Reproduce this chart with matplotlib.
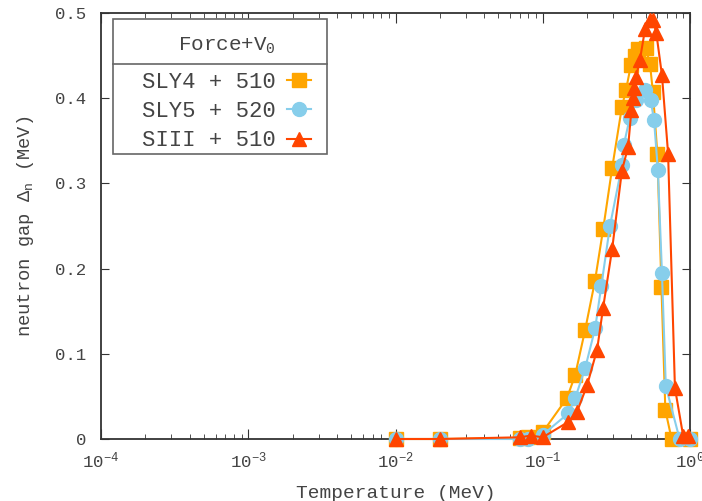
import math
import matplotlib
matplotlib.use('Agg')
import matplotlib.pyplot as plt
from matplotlib.ticker import LogLocator, FixedLocator, FuncFormatter, NullFormatter
from matplotlib.lines import Line2D
from matplotlib.patches import Rectangle

# ---------------- data ----------------
T_sly4 = [0.01, 0.02, 0.07, 0.08, 0.1, 0.146, 0.166, 0.194, 0.226, 0.257, 0.296, 0.345,
          0.368, 0.397, 0.42, 0.443, 0.5, 0.535, 0.56, 0.6, 0.64, 0.68, 0.75, 1.0]
D_sly4 = [0.0, 0.0, 0.001, 0.002, 0.008, 0.048, 0.075, 0.128, 0.185, 0.246, 0.318, 0.39,
          0.41, 0.439, 0.45, 0.458, 0.459, 0.44, 0.407, 0.335, 0.178, 0.034, 0.0, 0.0]

T_sly5 = [0.01, 0.02, 0.07, 0.08, 0.1, 0.149, 0.166, 0.194, 0.227, 0.25, 0.286, 0.346,
          0.355, 0.39, 0.43, 0.495, 0.54, 0.57, 0.605, 0.645, 0.685, 0.85, 1.0]
D_sly5 = [0.0, 0.0, 0.0, 0.0, 0.005, 0.03, 0.048, 0.083, 0.13, 0.18, 0.25, 0.322,
          0.345, 0.377, 0.398, 0.41, 0.398, 0.374, 0.316, 0.195, 0.062, 0.0, 0.0]

T_siii = [0.01, 0.02, 0.07, 0.083, 0.1, 0.149, 0.171, 0.2, 0.234, 0.257, 0.296, 0.345,
          0.38, 0.4, 0.41, 0.417, 0.43, 0.457, 0.495, 0.535, 0.56, 0.59, 0.645, 0.71,
          0.79, 0.9, 0.97]
D_siii = [0.0, 0.0, 0.002, 0.004, 0.002, 0.02, 0.032, 0.063, 0.105, 0.154, 0.223, 0.315,
          0.343, 0.386, 0.4, 0.412, 0.425, 0.445, 0.481, 0.492, 0.492, 0.477, 0.427, 0.335,
          0.06, 0.003, 0.003]

labels = ["SLY4 + 510", "SLY5 + 520", "SIII + 510"]
legend_title = "Force+V$_\\mathrm{0}$"
y_ticks = [0, 0.1, 0.2, 0.3, 0.4, 0.5]
y_ticklabels = ["0", "0.1", "0.2", "0.3", "0.4", "0.5"]

# ---------------- style ----------------
plt.rcParams['font.family'] = ['Liberation Mono', 'DejaVu Sans Mono']
plt.rcParams['mathtext.fontset'] = 'custom'
plt.rcParams['mathtext.rm'] = 'Liberation Mono'
plt.rcParams['mathtext.it'] = 'Liberation Mono'
plt.rcParams['mathtext.bf'] = 'Liberation Mono:bold'

txt = '#444444'
c_or = '#FFA500'
c_bl = '#87CEEB'
c_rd = '#FF4500'
frame_c = '#666666'

fig = plt.figure(figsize=(7.02, 5.01), dpi=100)
ax = fig.add_axes([101/702, 1-439/501, 589/702, 426/501])

h1, = ax.plot(T_sly4, D_sly4, color=c_or, marker='s', markersize=9.5, lw=1.5, clip_on=False, zorder=3)
h2, = ax.plot(T_sly5, D_sly5, color=c_bl, marker='o', markersize=10, lw=1.5, clip_on=False, zorder=4)
h3, = ax.plot(T_siii, D_siii, color=c_rd, marker='^', markersize=10, lw=1.5, clip_on=False, zorder=5)

ax.set_xscale('log')
ax.set_xlim(1e-4, 1.0)
ax.set_ylim(0, 0.5)

ax.xaxis.set_major_locator(LogLocator(base=10, numticks=10))
ax.xaxis.set_minor_locator(LogLocator(base=10, subs=range(2, 10), numticks=50))
ax.xaxis.set_minor_formatter(NullFormatter())
ax.xaxis.set_major_formatter(FuncFormatter(lambda v, p: "$10^{%d}$" % round(math.log10(v))))
ax.yaxis.set_major_locator(FixedLocator(y_ticks))
ax.set_yticklabels(y_ticklabels)

ax.tick_params(which='both', direction='in', top=True, right=True, colors='#333333',
               labelcolor=txt, labelsize=12.5)
ax.tick_params(axis='y', which='major', length=6, pad=10.5)
ax.tick_params(axis='x', which='major', length=7, pad=8)
ax.tick_params(axis='x', which='minor', length=3.5)
for s in ax.spines.values():
    s.set_color('#333333')
    s.set_linewidth(1.3)

ax.set_xlabel("Temperature (MeV)", fontsize=14, color=txt, labelpad=10)
ax.set_ylabel("neutron gap $\\Delta_\\mathrm{n}$ (MeV)", fontsize=13.5, color=txt, labelpad=14)

leg = ax.legend([h1, h2, h3], labels, title=legend_title, loc='upper left',
                bbox_to_anchor=(142/702, 1-36/501), bbox_transform=fig.transFigure,
                borderaxespad=0, markerfirst=False, handlelength=1.1, handletextpad=0.5,
                fontsize=16, title_fontsize=15, frameon=False,
                labelspacing=0.38, borderpad=0, labelcolor=txt)
leg.get_title().set_color(txt)
leg._legend_box.sep = 11
leg.set_zorder(20)

fig.canvas.draw()
r = fig.canvas.get_renderer()
lb = leg.get_window_extent(r)
tb = leg.get_title().get_window_extent(r)
hb = leg._legend_handle_box.get_window_extent(r)
inv = fig.transFigure.inverted()
bx0, bx1 = lb.x0 - 29, lb.x1 + 16
by1 = lb.y1 + 17
by0 = hb.y0 - 3
(fx0, fy0) = inv.transform((bx0, by0))
(fx1, fy1) = inv.transform((bx1, by1))
ax.add_patch(Rectangle((fx0, fy0), fx1 - fx0, fy1 - fy0, transform=fig.transFigure,
                       facecolor='white', edgecolor=frame_c, lw=1.2, zorder=18, clip_on=False))
ysep = (tb.y0 + hb.y1) / 2.0 - 0.5
(_, fys) = inv.transform((0, ysep))
ax.add_line(Line2D([fx0, fx1], [fys, fys], transform=fig.transFigure, color=frame_c,
                   lw=1.2, zorder=19, clip_on=False))

fig.savefig('out.png', dpi=100)
